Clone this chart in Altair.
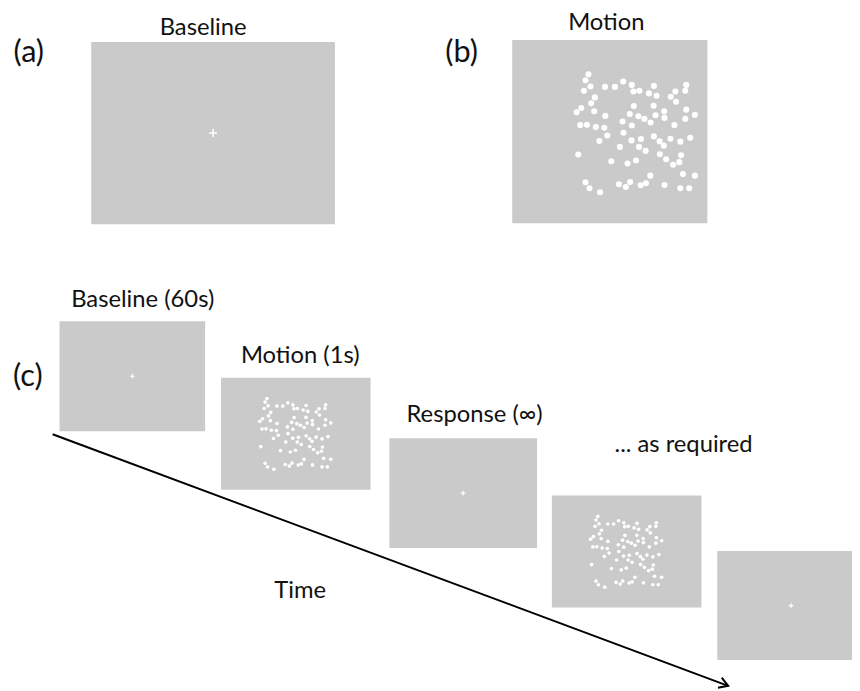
import math
import altair as alt
import pandas as pd

# ---------------- data ----------------
# screen panels (left, right, top, bottom) in figure pixels
PANEL_NAME = ["a_base", "b_motion", "c_base", "c_motion", "c_resp", "c_motion2", "c_base2"]
PANEL_KIND = ["fix", "dots", "fix", "dots", "fix", "dots", "fix"]
PANEL_X0 = [92, 517, 60, 223, 393, 557, 724]
PANEL_X1 = [338, 714, 207, 374, 542, 708, 873]
PANEL_Y0 = [39, 37, 321, 378, 439, 497, 553]
PANEL_Y1 = [223, 222, 432, 491, 550, 610, 663]
PANEL_SCALE = [1.0, 1.0, 0.6, 0.6, 0.6, 0.6, 0.6]
# offset of the dot pattern's corner inside a motion panel
PATTERN_DX = [0, 64.7, 0, 39, 0, 39, 0]
PATTERN_DY = [0, 34.7, 0, 21, 0, 21, 0]

# random-dot pattern (pattern units)
DOT_U = [12.3, 9.3, 14.3, 7.7, 29, 39, 47.3, 56, 57.7, 63.7, 78.3, 73.3, 81, 111, 110, 100,
         95.3, 100.7, 18.7, 15, 5, 0.3, 18, 29.3, 58, 54, 62.7, 68.7, 78, 80, 88.7, 89, 75,
         111, 119.7, 110, 99, 4, 10.7, 19.7, 28.3, 46.7, 56, 31.3, 47.7, 23.3, 55.7, 65.3,
         78.3, 84, 88.3, 95, 105, 115, 44, 63.3, 70, 2, 84.3, 90.7, 105.7, 35.3, 51.7, 60.3,
         97.7, 104, 74.7, 107.7, 119.7, 9.3, 13.3, 24, 43, 50, 54.3, 65, 70.3, 89, 105, 114]
DOT_V = [0, 6, 12.3, 16.7, 12.7, 12.7, 7.3, 10.7, 17.3, 16.7, 11.7, 19.3, 21.7, 10.7, 16.7,
         17.3, 22.7, 27.7, 23.3, 29.3, 34, 38.3, 37.3, 42, 32, 40, 42.3, 45, 31.7, 41.3, 37.3,
         44, 48.7, 35.7, 41, 45, 51.3, 51.3, 51, 53.3, 54, 47.7, 51.7, 61.7, 59, 67.3, 66.7,
         65.3, 62.7, 67.7, 72, 65, 68, 64, 73.3, 73.3, 77.3, 81, 80.7, 85.7, 81.7, 87.7, 90,
         87, 91.3, 88.7, 102.3, 100.7, 102.3, 109, 115, 119, 111, 113.7, 108.7, 112, 110,
         111.7, 115, 115]

# text labels
LABEL_TEXT = ["Baseline", "Motion", "Baseline (60s)", "Motion (1s)", "Response (\u221e)",
              "... as required", "Time"]
LABEL_X = [205, 612, 144, 303, 479, 690, 303]
LABEL_Y = [32, 27, 307, 363, 423, 453, 600]
TAG_TEXT = ["(a)", "(b)", "(c)"]
TAG_X = [29, 466, 28]
TAG_Y = [59, 59, 386]

# time arrow (start, end)
ARROW_X = [53, 735]
ARROW_Y = [435, 689]

# ---------------- tables ----------------
panels = pd.DataFrame({
    "name": PANEL_NAME, "kind": PANEL_KIND,
    "x0": PANEL_X0, "x1": PANEL_X1, "y0": PANEL_Y0, "y1": PANEL_Y1,
    "s": PANEL_SCALE, "dx": PATTERN_DX, "dy": PATTERN_DY,
})
panels["cx"] = (panels.x0 + panels.x1) / 2
panels["cy"] = (panels.y0 + panels.y1) / 2

fix = panels[panels.kind == "fix"].copy()
fix["csize"] = 64 * fix.s ** 2
fix["sw"] = 0.8 + 0.7 * fix.s

pattern = pd.DataFrame({"u": DOT_U, "v": DOT_V})
motion = panels[panels.kind == "dots"]
dots = motion.merge(pattern, how="cross")
dots["x"] = dots.x0 + dots.dx + dots.s * dots.u
dots["y"] = dots.y0 + dots.dy + dots.s * dots.v
dots["dsize"] = 38 * dots.s ** 2

labels = pd.DataFrame({"t": LABEL_TEXT, "x": LABEL_X, "y": LABEL_Y})
tags = pd.DataFrame({"t": TAG_TEXT, "x": TAG_X, "y": TAG_Y})
arrow = pd.DataFrame({"x": [ARROW_X[0]], "y": [ARROW_Y[0]], "x2": [ARROW_X[1]], "y2": [ARROW_Y[1]]})
ang = math.degrees(math.atan2(ARROW_Y[1] - ARROW_Y[0], ARROW_X[1] - ARROW_X[0]))
tip = pd.DataFrame({"x": [ARROW_X[1]], "y": [ARROW_Y[1]]})

# ---------------- chart ----------------
# the page has an 8px margin: map figure pixel 8..860 onto the 852px canvas
XS = alt.Scale(domain=[8, 860], nice=False, zero=False)
YS = alt.Scale(domain=[8, 691], nice=False, zero=False, reverse=True)
FONT = "Lato"

rects = alt.Chart(panels).mark_rect(color="#cacaca", clip=True).encode(
    x=alt.X("x0:Q", scale=XS, axis=None), x2="x1:Q",
    y=alt.Y("y0:Q", scale=YS, axis=None), y2="y1:Q",
)

crosses = alt.Chart(fix).mark_point(
    shape="M-1,0H1M0,-1V1", filled=False, color="white", opacity=1
).encode(
    x=alt.X("cx:Q", scale=XS, axis=None),
    y=alt.Y("cy:Q", scale=YS, axis=None),
    size=alt.Size("csize:Q", scale=None),
    strokeWidth=alt.StrokeWidth("sw:Q", scale=None),
)

dot_layer = alt.Chart(dots).mark_circle(color="white", opacity=1).encode(
    x=alt.X("x:Q", scale=XS, axis=None),
    y=alt.Y("y:Q", scale=YS, axis=None),
    size=alt.Size("dsize:Q", scale=None),
)

line = alt.Chart(arrow).mark_rule(color="black", strokeWidth=2).encode(
    x=alt.X("x:Q", scale=XS, axis=None), x2="x2:Q",
    y=alt.Y("y:Q", scale=YS, axis=None), y2="y2:Q",
)

head = alt.Chart(tip).mark_point(
    shape="M-1,-0.6L0,0L-1,0.6", filled=False, color="black", strokeWidth=2,
    size=324, angle=ang, opacity=1
).encode(
    x=alt.X("x:Q", scale=XS, axis=None),
    y=alt.Y("y:Q", scale=YS, axis=None),
)

label_layer = alt.Chart(labels).mark_text(
    font=FONT, fontSize=24, color="#111111", align="center", baseline="alphabetic"
).encode(
    x=alt.X("x:Q", scale=XS, axis=None),
    y=alt.Y("y:Q", scale=YS, axis=None),
    text="t:N",
)

tag_layer = alt.Chart(tags).mark_text(
    font=FONT, fontSize=31, color="#111111", align="center", baseline="alphabetic"
).encode(
    x=alt.X("x:Q", scale=XS, axis=None),
    y=alt.Y("y:Q", scale=YS, axis=None),
    text="t:N",
)

chart = alt.layer(
    rects, crosses, dot_layer, line, head, label_layer, tag_layer
).properties(
    width=852, height=683, padding=0, autosize="none", background="white"
).configure_view(stroke=None)

chart.save("out.html", embed_options={"renderer": "svg", "actions": False})
